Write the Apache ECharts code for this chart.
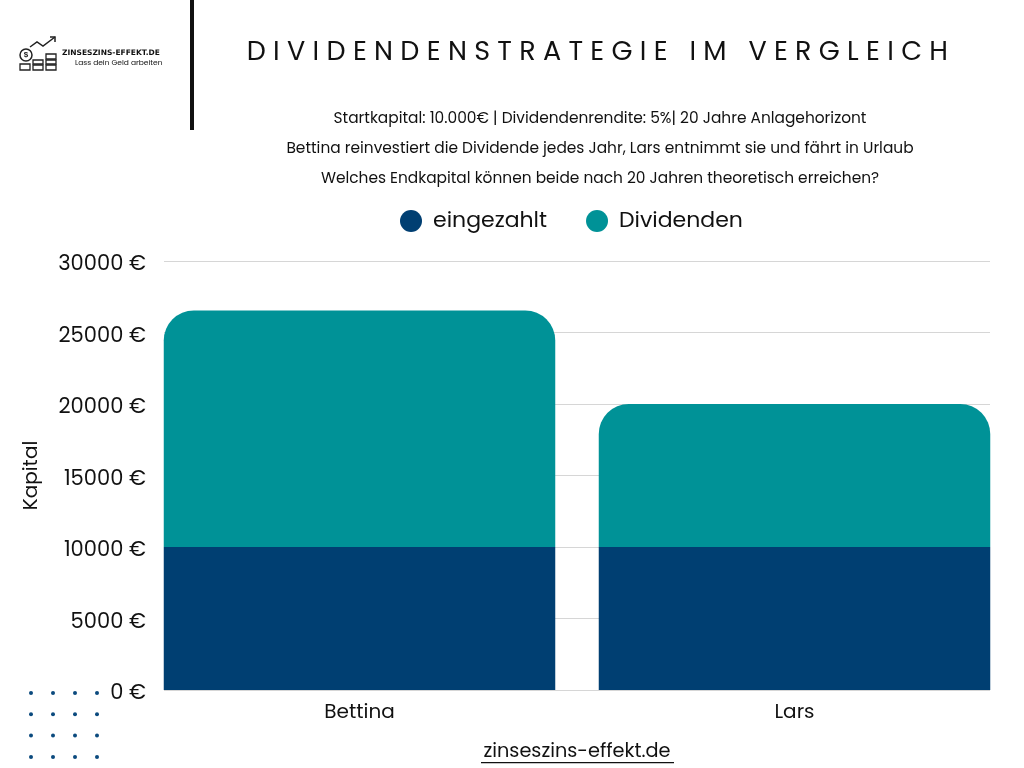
<!DOCTYPE html>
<html><head><meta charset="utf-8">
<script src="https://cdn.jsdelivr.net/npm/echarts@6/dist/echarts.min.js"></script>
<style>html,body{margin:0;padding:0;background:#fff}#c{width:1024px;height:768px}</style>
</head><body><div id="c"></div>
<script>
var categories = ['Bettina', 'Lars'];
var eingezahlt = [10000, 10000];
var dividenden = [16533, 10000];
var yTicks = [0, 5000, 10000, 15000, 20000, 25000, 30000];
var TITLE = 'DIVIDENDENSTRATEGIE IM VERGLEICH';

// letter-spaced title (canvas letterSpacing applied only to the title string)
(function(){
  var proto = CanvasRenderingContext2D.prototype, orig = proto.fillText;
  proto.fillText = function(t, x, y, m){
    if ('letterSpacing' in this) {
      var want = (t === TITLE) ? '7.3px' : '0px';
      if (this.letterSpacing !== want) { this.letterSpacing = want; }
    }
    if (m === undefined) orig.call(this, t, x, y); else orig.call(this, t, x, y, m);
  };
})();

var chart = echarts.init(document.getElementById('c'));
var F = 'Poppins, "Open Sans", "Noto Sans", sans-serif';
var dotChildren = [];
for (var r = 0; r < 4; r++) for (var k = 0; k < 4; k++) {
  dotChildren.push({type:'circle', shape:{cx:31 + k*22, cy:693 + r*21.3, r:2}, style:{fill:'#0b4a7e'}});
}
chart.setOption({
  backgroundColor:'#fff',
  title:[
    {text:TITLE, left:596, top:35, textAlign:'center',
     textStyle:{fontFamily:F, fontSize:27, fontWeight:400, color:'#111'}},
    {text:'Startkapital: 10.000€ | Dividendenrendite: 5%| 20 Jahre Anlagehorizont\nBettina reinvestiert die Dividende jedes Jahr, Lars entnimmt sie und fährt in Urlaub\nWelches Endkapital können beide nach 20 Jahren theoretisch erreichen?',
     left:595, top:99, textAlign:'center',
     textStyle:{fontFamily:F, fontSize:15.4, fontWeight:'normal', color:'#111', lineHeight:30}}
  ],
  legend:{data:['eingezahlt','Dividenden'], top:205, left:395, icon:'circle', itemWidth:22, itemHeight:22, itemGap:39,
    textStyle:{fontFamily:F, fontSize:22, color:'#111', padding:[0,0,0,6]}},
  grid:[
    {left:164, right:34, top:261, bottom:78},
    {left:142, right:12, top:261, bottom:78}
  ],
  xAxis:[
    {type:'category', gridIndex:0, data:categories, show:false},
    {type:'category', gridIndex:1, data:categories, axisLine:{show:false}, axisTick:{show:false},
     axisLabel:{fontFamily:F, fontSize:20, color:'#111', margin:13}}
  ],
  yAxis:[
    {type:'value', gridIndex:0, min:0, max:30000, interval:5000, name:'Kapital', nameLocation:'middle', nameGap:122,
     nameTextStyle:{fontFamily:F, fontSize:20, color:'#111'},
     axisLabel:{formatter:function(v){return '{a|' + v + ' €}';}, margin:18,
       rich:{a:{fontFamily:F, fontSize:21, color:'#111', padding:[8,0,0,0]}}},
     axisLine:{show:false}, axisTick:{show:false}, splitLine:{lineStyle:{color:'#d6d6d6'}}},
    {type:'value', gridIndex:1, min:0, max:30000, interval:5000, show:false, splitLine:{show:false}}
  ],
  series:[
    {name:'eingezahlt', type:'bar', stack:'a', xAxisIndex:1, yAxisIndex:1, data:eingezahlt, barCategoryGap:'10%',
     itemStyle:{color:'#003f72'}},
    {name:'Dividenden', type:'bar', stack:'a', xAxisIndex:1, yAxisIndex:1, data:dividenden, barCategoryGap:'10%',
     itemStyle:{color:'#009297', borderRadius:[30,30,0,0]}}
  ],
  graphic:[
    {type:'rect', shape:{x:190, y:0, width:4, height:130}, style:{fill:'#111'}},
    {type:'group', children:[
      {type:'circle', shape:{cx:26, cy:55, r:6}, style:{fill:'#fff', stroke:'#222', lineWidth:1.5}},
      {type:'text', style:{text:'$', x:26, y:55, align:'center', verticalAlign:'middle', fontSize:8, fontWeight:'bold', fill:'#222'}},
      {type:'polyline', shape:{points:[[30,47],[37,42],[43,46],[55,37]]}, style:{stroke:'#222', lineWidth:1.5, fill:'none'}},
      {type:'polyline', shape:{points:[[50,37],[55,37],[55,42]]}, style:{stroke:'#222', lineWidth:1.5, fill:'none'}},
      {type:'rect', shape:{x:20, y:64, width:10, height:6}, style:{fill:'#fff', stroke:'#222', lineWidth:1.3}},
      {type:'rect', shape:{x:33, y:60, width:10, height:4}, style:{fill:'#fff', stroke:'#222', lineWidth:1.3}},
      {type:'rect', shape:{x:33, y:65, width:10, height:5}, style:{fill:'#fff', stroke:'#222', lineWidth:1.3}},
      {type:'rect', shape:{x:46, y:54, width:10, height:5}, style:{fill:'#fff', stroke:'#222', lineWidth:1.3}},
      {type:'rect', shape:{x:46, y:60, width:10, height:4}, style:{fill:'#fff', stroke:'#222', lineWidth:1.3}},
      {type:'rect', shape:{x:46, y:65, width:10, height:5}, style:{fill:'#fff', stroke:'#222', lineWidth:1.3}},
      {type:'text', style:{text:'ZINSESZINS-EFFEKT.DE', x:62, y:53, verticalAlign:'middle', fontSize:7.5, fontWeight:'bold', fontFamily:'"DejaVu Sans"', fill:'#111'}},
      {type:'text', style:{text:'Lass dein Geld arbeiten', x:75, y:63, verticalAlign:'middle', fontSize:7.5, fontFamily:F, fill:'#111'}}
    ]},
    {type:'group', children:dotChildren},
    {type:'text', style:{text:'zinseszins-effekt.de', x:577, y:752, align:'center', verticalAlign:'middle', fontFamily:F, fontSize:19.3, fill:'#111'}},
    {type:'rect', shape:{x:481, y:762, width:193, height:1.3}, style:{fill:'#111'}}
  ]
});
</script></body></html>
